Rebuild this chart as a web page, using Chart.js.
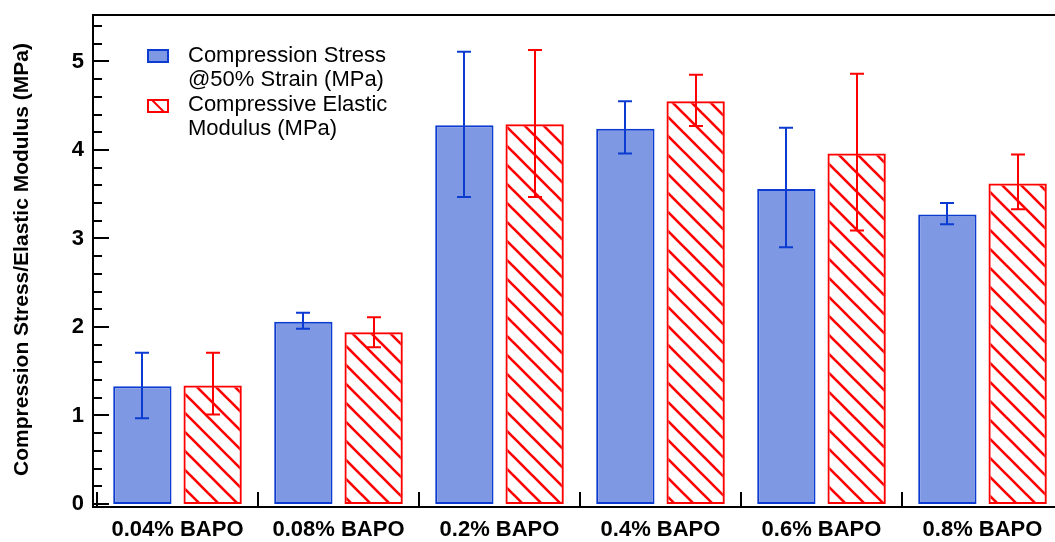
<!DOCTYPE html>
<html>
<head>
<meta charset="utf-8">
<script src="https://cdn.jsdelivr.net/npm/chart.js@4.4.1/dist/chart.umd.min.js"></script>
<style>
  html, body { margin: 0; padding: 0; background: #fff; overflow: hidden; width: 1055px; height: 542px; }
  canvas { display: block; }
</style>
</head>
<body>
<canvas id="c" width="1070" height="542" style="width:1070px;height:542px"></canvas>
<script>
// Formulation groups (photoinitiator content)
const categories = ['0.04% BAPO', '0.08% BAPO', '0.2% BAPO', '0.4% BAPO', '0.6% BAPO', '0.8% BAPO'];

// Compression stress at 50% strain (MPa) with error bar ends
const stressValues  = [1.33, 2.06, 4.28, 4.24, 3.56, 3.27];
const stressErrLow  = [0.97, 1.98, 3.47, 3.96, 2.90, 3.16];
const stressErrHigh = [1.71, 2.16, 5.11, 4.55, 4.25, 3.40];

// Compressive elastic modulus (MPa) with error bar ends
const modulusValues  = [1.34, 1.94, 4.29, 4.55, 3.96, 3.62];
const modulusErrLow  = [1.01, 1.77, 3.47, 4.27, 3.09, 3.33];
const modulusErrHigh = [1.71, 2.11, 5.13, 4.85, 4.86, 3.95];

// Y axis ticks
const yMajorTicks = [0, 1, 2, 3, 4, 5];
const yMinorStep = 0.2;
const yMax = 5.525;

const FONT = '"Liberation Sans", Arial, Helvetica, sans-serif';
const BLUE_EDGE = '#0b3bd0';
const BLUE_FILL = '#7f98e3';
const RED = '#ff0000';

// Diagonal "\" hatch used for the modulus bars
function makeHatch(color) {
  const s = 19;
  const tile = document.createElement('canvas');
  tile.width = s; tile.height = s;
  const t = tile.getContext('2d');
  t.strokeStyle = color;
  t.lineWidth = 2.6;
  for (const k of [-s, 0, s]) {
    t.beginPath();
    t.moveTo(-s, -s + k);
    t.lineTo(2 * s, 2 * s + k);
    t.stroke();
  }
  return t.createPattern(tile, 'repeat');
}
const ctx0 = document.getElementById('c').getContext('2d');
const hatch = makeHatch(RED);

// Frame: left/bottom/top axis lines, inward ticks on y, group separators on x
const framePlugin = {
  id: 'frame',
  afterDraw(chart) {
    const { ctx, chartArea: a, scales: { x, y } } = chart;
    const x0 = a.left - 4;
    const y0 = a.bottom + 3;
    ctx.save();
    ctx.strokeStyle = '#000';
    ctx.lineWidth = 2;
    ctx.lineCap = 'butt';
    ctx.beginPath();
    ctx.moveTo(x0, a.top - 1);
    ctx.lineTo(x0, y0);
    ctx.moveTo(x0 - 1, y0);
    ctx.lineTo(chart.width, y0);
    ctx.moveTo(x0 - 1, a.top);
    ctx.lineTo(chart.width, a.top);
    ctx.stroke();

    ctx.beginPath();
    const n = Math.floor(yMax / yMinorStep + 1e-6);
    for (let i = 0; i <= n; i++) {
      const v = i * yMinorStep;
      const major = yMajorTicks.some(t => Math.abs(t - v) < 1e-6);
      const py = Math.round(y.getPixelForValue(v));
      ctx.moveTo(x0, py);
      ctx.lineTo(x0 + (major ? 16 : 9), py);
    }
    for (let i = 0; i <= categories.length; i++) {
      const px = Math.round(x.getPixelForValue(i - 0.5));
      ctx.moveTo(px, y0);
      ctx.lineTo(px, y0 - 15);
    }
    ctx.stroke();
    ctx.restore();
  }
};

// Error bars drawn on top of each bar
const errorBarPlugin = {
  id: 'errorBars',
  afterDatasetsDraw(chart) {
    const { ctx, scales: { y } } = chart;
    ctx.save();
    ctx.lineWidth = 2;
    chart.data.datasets.forEach((ds, i) => {
      const meta = chart.getDatasetMeta(i);
      ctx.strokeStyle = ds.errColor;
      meta.data.forEach((bar, j) => {
        const cx = Math.round(bar.x);
        const yl = y.getPixelForValue(ds.errLow[j]);
        const yh = y.getPixelForValue(ds.errHigh[j]);
        ctx.beginPath();
        ctx.moveTo(cx, yl);
        ctx.lineTo(cx, yh);
        ctx.moveTo(cx - 7, yl);
        ctx.lineTo(cx + 7, yl);
        ctx.moveTo(cx - 7, yh);
        ctx.lineTo(cx + 7, yh);
        ctx.stroke();
      });
    });
    ctx.restore();
  }
};

// Legend in the upper-left corner of the plot
const legendPlugin = {
  id: 'cornerLegend',
  afterDraw(chart) {
    const { ctx } = chart;
    const bx = 148, tx = 188;
    const rows = [
      { ds: chart.data.datasets[0], boxY: 50, baselines: [61.5, 86] },
      { ds: chart.data.datasets[1], boxY: 100, baselines: [110.5, 135] }
    ];
    ctx.save();
    rows.forEach(r => {
      ctx.lineWidth = 2;
      ctx.strokeStyle = r.ds.borderColor;
      if (r.ds.hatched) {
        ctx.fillStyle = '#fff';
        ctx.fillRect(bx, r.boxY, 20, 12);
        ctx.save();
        ctx.beginPath();
        ctx.rect(bx, r.boxY, 20, 12);
        ctx.clip();
        ctx.beginPath();
        ctx.moveTo(bx + 3, r.boxY - 1);
        ctx.lineTo(bx + 17, r.boxY + 13);
        ctx.stroke();
        ctx.restore();
      } else {
        ctx.fillStyle = r.ds.backgroundColor;
        ctx.fillRect(bx, r.boxY, 20, 12);
      }
      ctx.strokeRect(bx, r.boxY, 20, 12);
      ctx.fillStyle = '#000';
      ctx.font = '22px ' + FONT;
      ctx.textBaseline = 'alphabetic';
      ctx.textAlign = 'left';
      r.ds.label.forEach((line, k) => ctx.fillText(line, tx, r.baselines[k]));
    });
    ctx.restore();
  }
};

new Chart(ctx0, {
  type: 'bar',
  data: {
    labels: categories,
    datasets: [
      {
        label: ['Compression Stress', '@50% Strain (MPa)'],
        data: stressValues,
        errLow: stressErrLow,
        errHigh: stressErrHigh,
        errColor: BLUE_EDGE,
        backgroundColor: BLUE_FILL,
        borderColor: BLUE_EDGE,
        borderWidth: 2,
        borderSkipped: false,
        categoryPercentage: 0.873,
        barPercentage: 0.83
      },
      {
        label: ['Compressive Elastic', 'Modulus (MPa)'],
        data: modulusValues,
        errLow: modulusErrLow,
        errHigh: modulusErrHigh,
        errColor: RED,
        hatched: true,
        backgroundColor: hatch,
        borderColor: RED,
        borderWidth: 2,
        borderSkipped: false,
        categoryPercentage: 0.873,
        barPercentage: 0.83
      }
    ]
  },
  options: {
    responsive: false,
    maintainAspectRatio: false,
    animation: false,
    layout: { padding: { top: 15, left: 0, right: 7, bottom: 0 } },
    plugins: {
      legend: { display: false },
      tooltip: { enabled: false }
    },
    scales: {
      x: {
        type: 'category',
        offset: true,
        grid: { display: false, drawTicks: false },
        border: { display: false },
        ticks: {
          color: '#000',
          padding: 13,
          maxRotation: 0,
          autoSkip: false,
          font: { family: FONT, size: 22, weight: 'bold' }
        },
        afterFit(scale) {
          scale.height = 38;
          scale.paddingLeft = 0;
          scale.paddingRight = 0;
        }
      },
      y: {
        min: 0,
        max: yMax,
        grid: { display: false, drawTicks: false },
        border: { display: false },
        afterBuildTicks(scale) { scale.ticks = yMajorTicks.map(v => ({ value: v })); },
        ticks: {
          color: '#000',
          padding: 13,
          font: { family: FONT, size: 22, weight: 'bold' }
        },
        title: {
          display: true,
          text: 'Compression Stress/Elastic Modulus (MPa)',
          color: '#000',
          padding: { top: 10, bottom: 0 },
          font: { family: FONT, size: 21, weight: 'bold' }
        },
        afterFit(scale) {
          scale.width = 97;
          scale.paddingTop = 0;
          scale.paddingBottom = 0;
        }
      }
    }
  },
  plugins: [framePlugin, errorBarPlugin, legendPlugin]
});
</script>
</body>
</html>
